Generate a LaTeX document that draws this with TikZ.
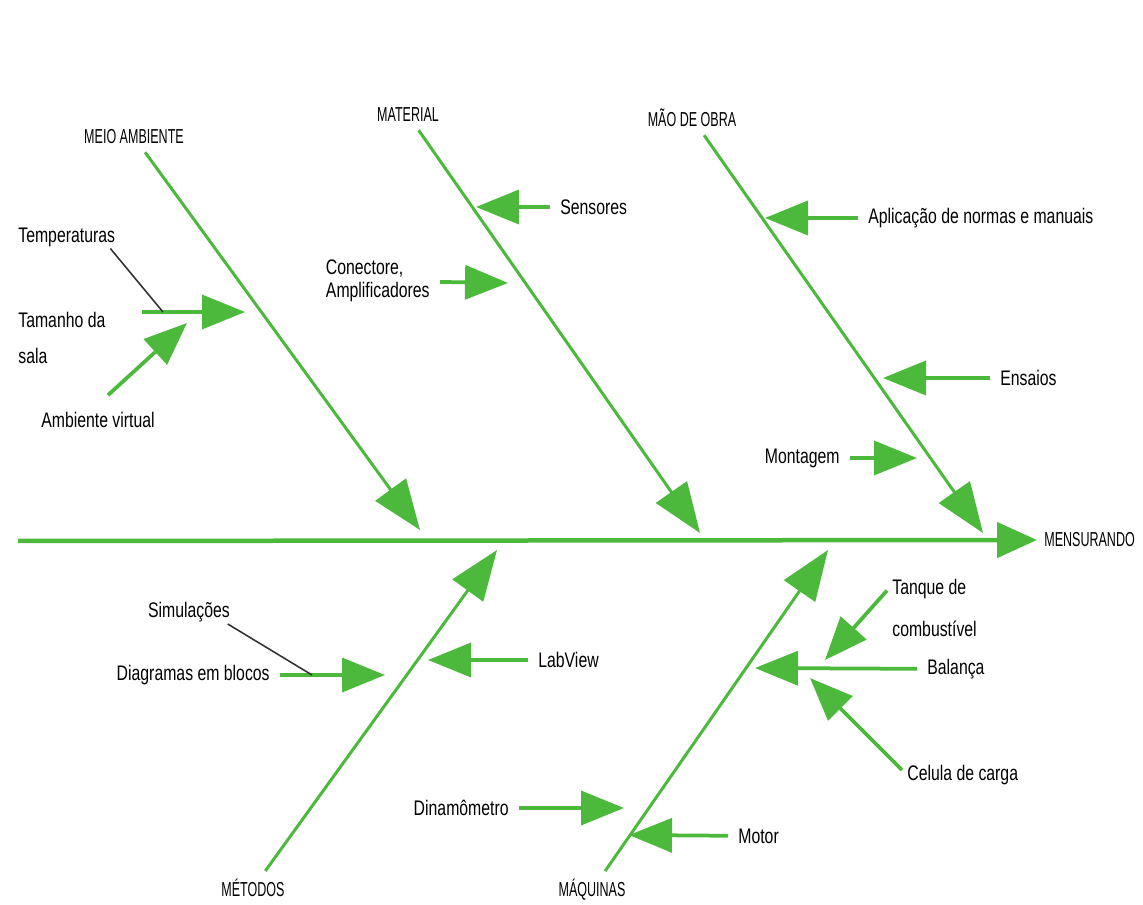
\documentclass[tikz,border=0pt]{standalone}
\usepackage{fontspec}
\setmainfont{Liberation Sans}[FakeStretch=0.75]
\newfontfamily\capsfont{Liberation Sans}[FakeStretch=0.62]
\usetikzlibrary{arrows.meta}
\definecolor{fishgreen}{RGB}{76,185,60}

\tikzset{
  lbl/.style={font=\fontsize{12}{13}\selectfont, inner xsep=2mm, inner ysep=1pt},
  cause/.style={font=\capsfont\fontsize{11.5}{12}\selectfont, inner sep=1pt},
  spine/.style={color=fishgreen, line width=0.9mm, -{Triangle[length=8mm,width=7mm]}},
  bone/.style={color=fishgreen, line width=0.6mm, shorten <=1.5mm, -{Triangle[length=10mm,width=7.5mm]}},
  twig/.style={color=fishgreen, line width=0.75mm, -{Triangle[length=8.6mm,width=6.8mm]}},
  lead/.style={draw=black!80, line width=0.9pt}
}

\begin{document}
\begin{tikzpicture}[x=0.02cm, y=-0.02cm]
    \useasboundingbox (0,0) rectangle (1143,905);
    %Spine
    \coordinate (spS) at (18,541);
    \node[cause, inner xsep=1.4mm, anchor=west] (mens) at (1037,540) {MENSURANDO};
    \draw[spine] (spS) -- (mens.west);
    %Meio ambiente
    \node[cause] (meio) at (134,137) {MEIO AMBIENTE};
    \coordinate (meioT) at (420,530);
    \draw[bone] (meio) -- (meioT);
    \node[lbl, anchor=west] (temp) at (8,237) {Temperaturas};
    \node[lbl, anchor=west, align=left] (tam) at (8,338) {Tamanho da\\[2.8mm]sala};
    \node[lbl] (ambv) at (98,420) {Ambiente virtual};
    \coordinate (tamS) at (142,312);
    \coordinate (tamJ) at (163,312);
    \coordinate (tamT) at (245,312);
    \coordinate (ambT) at (187,323);
    \draw[twig] (tamS) -- (tamT);
    \draw[twig] ([xshift=2mm,yshift=3mm]ambv.north) -- (ambT);
    \draw[lead] ([xshift=-3mm]temp.south east) -- (tamJ);
    %Material
    \node[cause] (mat) at (408,115) {MATERIAL};
    \coordinate (matT) at (700,533);
    \draw[bone] (mat) -- (matT);
    \node[lbl, anchor=west] (sens) at (550,207) {Sensores};
    \coordinate (sensT) at (476,207);
    \draw[twig] (sens) -- (sensT);
    \node[lbl, anchor=east, align=left] (con) at (440,281) {Conectore,\\Amplificadores};
    \coordinate (conT) at (508,283);
    \draw[twig] (con) -- (conT);
    %Mao de obra
    \node[cause] (mao) at (692,118) {MÃO DE OBRA};
    \coordinate (maoT) at (983,533);
    \draw[bone] (mao) -- (maoT);
    \node[lbl, anchor=west] (apl) at (858,218) {Aplicação de normas e manuais};
    \coordinate (aplT) at (765,218);
    \draw[twig] (apl) -- (aplT);
    \node[lbl, anchor=west] (ens) at (990,378) {Ensaios};
    \coordinate (ensT) at (883,378);
    \draw[twig] (ens) -- (ensT);
    \node[lbl, anchor=east] (mont) at (850,458) {Montagem};
    \coordinate (montT) at (917,458);
    \draw[twig] (mont) -- (montT);
    %Metodos
    \node[cause] (met) at (253,888) {MÉTODOS};
    \coordinate (metT) at (497,550);
    \draw[bone] (met) -- (metT);
    \node[lbl] (sim) at (189,612) {Simulações};
    \node[lbl, anchor=east] (diag) at (280,675) {Diagramas em blocos};
    \coordinate (diagJ) at (312,675);
    \coordinate (diagT) at (385,675);
    \draw[twig] (diag) -- (diagT);
    \draw[lead] ([xshift=-2.5mm]sim.south east) -- (diagJ);
    \node[lbl, anchor=west] (lab) at (528,660) {LabView};
    \coordinate (labT) at (428,660);
    \draw[twig] (lab) -- (labT);
    %Maquinas
    \node[cause] (maq) at (592,890) {MÁQUINAS};
    \coordinate (maqT) at (828,550);
    \draw[bone] (maq) -- (maqT);
    \node[lbl, anchor=east] (din) at (519,808) {Dinamômetro};
    \coordinate (dinT) at (624,808);
    \draw[twig] (din) -- (dinT);
    \node[lbl, anchor=west] (mot) at (728,836) {Motor};
    \coordinate (motT) at (629,835);
    \draw[twig] (mot) -- (motT);
    \node[lbl, anchor=west, align=left] (tan) at (882,608) {Tanque de\\[4mm]combustível};
    \coordinate (tanT) at (825,660);
    \draw[twig] ([xshift=1mm,yshift=3.5mm]tan.west) -- (tanT);
    \node[lbl, anchor=west] (bal) at (917,669) {Balança};
    \coordinate (balT) at (755,668);
    \draw[twig] (bal) -- (balT);
    \node[lbl, anchor=west] (cel) at (897,775) {Celula de carga};
    \coordinate (celT) at (810,678);
    \draw[twig] ([xshift=1mm,yshift=1mm]cel.west) -- (celT);
\end{tikzpicture}
\end{document}
